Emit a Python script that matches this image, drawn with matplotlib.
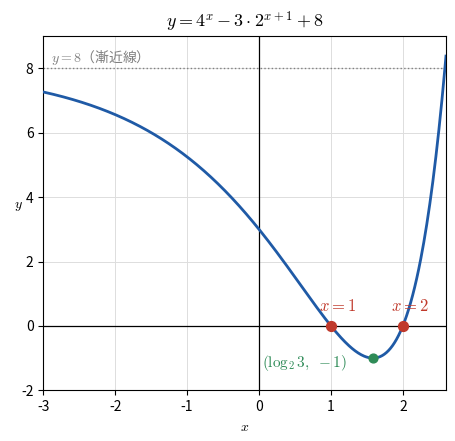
import numpy as np
import matplotlib
matplotlib.use("Agg")
import matplotlib.pyplot as plt

plt.rcParams['font.family'] = ['Noto Sans CJK JP', 'DejaVu Sans']
plt.rcParams['mathtext.fontset'] = 'cm'
plt.rcParams['axes.unicode_minus'] = False

# function shown in the title: y = 4^x - 3*2^(x+1) + 8
x = np.linspace(-3, 2.6, 400)
y = 4 ** x - 3 * 2 ** (x + 1) + 8

roots_x = [1, 2]
roots_y = [0, 0]
vertex_x = [np.log2(3)]
vertex_y = [-1]
asymptote = 8

fig, ax = plt.subplots(figsize=(4.56, 4.41), dpi=100)
fig.subplots_adjust(left=0.095, right=0.978, top=0.918, bottom=0.115)

ax.plot(x, y, color='#1f5aa6', lw=2, zorder=3)
ax.axhline(asymptote, color='gray', ls=':', lw=1)
ax.axhline(0, color='black', lw=0.9)
ax.axvline(0, color='black', lw=0.9)

ax.scatter(roots_x, roots_y, color='#c0392b', s=50, zorder=4)
ax.scatter(vertex_x, vertex_y, color='#2e8b57', s=40, zorder=4)

for rx in roots_x:
    ax.text(rx + 0.1, 0.35, rf'$x={rx}$', color='#c0392b', fontsize=12, ha='center', va='bottom')
ax.text(vertex_x[0] - 0.36, vertex_y[0] - 0.15, r'$(\log_2 3,\ -1)$', color='#2e8b57',
        fontsize=11, ha='right', va='center')
ax.text(-2.9, 8.03, r'$y=8$（漸近線）', color='gray', fontsize=10, va='bottom')

ax.set_xlim(-3, 2.6)
ax.set_ylim(-2, 9)
ax.set_xticks([-3, -2, -1, 0, 1, 2])
ax.set_yticks([-2, 0, 2, 4, 6, 8])
ax.grid(True, color='#dddddd', lw=0.7)
ax.set_axisbelow(True)

ax.set_title(r'$y=4^x-3\cdot2^{x+1}+8$', fontsize=13)
ax.set_xlabel(r'$x$')
ax.set_ylabel(r'$y$', rotation=0, labelpad=2)

plt.savefig('out.png')
